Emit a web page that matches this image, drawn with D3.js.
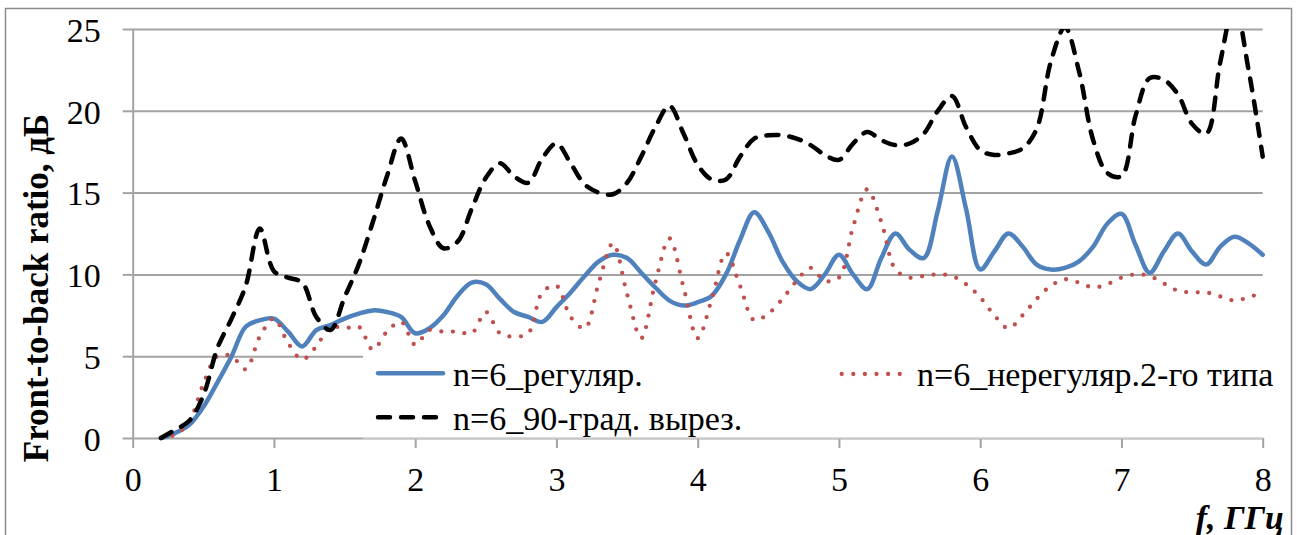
<!DOCTYPE html>
<html>
<head>
<meta charset="utf-8">
<script src="https://cdn.jsdelivr.net/npm/d3@7"></script>
<style>
  html, body { margin: 0; padding: 0; background: #fff; }
  svg { display: block; }
  text { font-family: "Liberation Serif", "Times New Roman", serif; fill: #000; }
</style>
</head>
<body>
<svg id="chart" width="1297" height="535"></svg>
<script>
// Frequency grid, GHz
const freq = [0.2,0.3,0.4,0.5,0.6,0.7,0.8,0.9,1.0,1.1,1.2,1.3,1.4,1.5,1.6,1.7,1.8,1.9,2.0,2.1,
  2.2,2.3,2.4,2.5,2.6,2.7,2.8,2.9,3.0,3.1,3.2,3.3,3.4,3.5,3.6,3.7,3.8,3.9,4.0,4.1,
  4.2,4.3,4.4,4.5,4.6,4.7,4.8,4.9,5.0,5.1,5.2,5.3,5.4,5.5,5.6,5.7,5.8,5.9,6.0,6.1,
  6.2,6.3,6.4,6.5,6.6,6.7,6.8,6.9,7.0,7.1,7.2,7.3,7.4,7.5,7.6,7.7,7.8,7.9,8.0];

// Front-to-back ratio, dB
const regular = [0,0.3,0.8,1.9,3.4,5.0,6.8,7.2,7.3,6.5,5.6,6.6,6.9,7.3,7.6,7.8,7.7,7.4,6.4,6.7,
  7.5,8.7,9.5,9.4,8.5,7.7,7.4,7.1,8.0,8.9,9.9,10.8,11.2,11.0,10.1,9.2,8.4,8.1,8.3,8.7,
  10.0,12.1,13.8,12.6,10.8,9.6,9.1,10.0,11.2,10.0,9.1,11.0,12.5,11.5,11.0,13.9,17.2,14.0,10.3,11.4,
  12.5,11.7,10.6,10.3,10.4,10.8,11.7,13.1,13.7,11.8,10.1,11.4,12.5,11.4,10.6,11.7,12.3,11.9,11.2];

const irregular2 = [0,0.2,1.0,3.3,5.0,5.0,4.2,6.2,7.3,5.8,4.8,5.6,6.8,6.7,6.8,5.4,6.5,7.1,5.7,6.6,
  6.5,6.5,6.4,7.7,6.4,6.2,6.4,8.9,9.3,7.4,6.7,9.5,11.9,8.8,6.1,9.5,12.2,9.2,6.1,8.5,
  11.3,9.3,7.2,7.6,8.5,9.6,10.4,9.6,9.8,12.9,15.2,13.2,10.3,9.8,9.9,10.0,9.9,9.4,8.6,7.5,
  6.7,7.5,8.5,9.3,9.7,9.5,9.2,9.4,9.8,10.0,9.9,9.45,9.0,8.9,8.9,8.65,8.4,8.6,8.9];

const cut90 = [0,0.5,1.05,2.6,5.5,7.3,9.3,12.8,10.2,9.8,9.5,7.4,6.6,8.6,10.6,13.2,16.0,18.3,15.7,13.0,
  11.6,12.0,14.0,15.9,16.8,16.0,15.6,17.1,18.0,16.8,15.5,15.0,14.9,15.6,17.2,19.0,20.3,18.6,16.7,15.8,
  15.8,17.2,18.3,18.5,18.5,18.3,17.9,17.3,17.0,18.0,18.7,18.2,17.9,18.0,18.6,20.0,20.9,19.0,17.6,17.3,
  17.4,17.7,18.9,23.0,25.1,22.4,18.2,16.2,16.0,19.7,22.0,21.9,21.0,19.2,18.6,23.0,26.5,22.5,17.2];

const xTicks = [0,1,2,3,4,5,6,7,8];
const yTicks = [0,5,10,15,20,25];

const seriesNames = ["n=6_регуляр.", "n=6_нерегуляр.2-го типа", "n=6_90-град. вырез."];
const yTitle = "Front-to-back ratio, дБ";
const xTitle = "f, ГГц";

const svg = d3.select("#chart");
const L = 132.7, R = 1262.7, T = 29, B = 438;

const x = d3.scaleLinear().domain([0, 8]).range([L, R]);
const y = d3.scaleLinear().domain([0, 25]).range([B, T]);

// outer frame
svg.append("rect")
  .attr("x", 5.5).attr("y", 8.5).attr("width", 1286).attr("height", 540)
  .attr("fill", "none").attr("stroke", "#8c8c8c").attr("stroke-width", 1.5);

const gridColor = "#a3a3a3";

// horizontal gridlines
svg.append("g")
  .attr("transform", `translate(${L},0)`)
  .call(d3.axisLeft(y).tickValues(yTicks).tickSizeInner(-(R - L)).tickSizeOuter(0).tickFormat(""))
  .call(g => g.select(".domain").remove())
  .call(g => g.selectAll(".tick line").attr("stroke", gridColor).attr("stroke-width", 2));

// y axis with outward ticks and labels
svg.append("g")
  .attr("transform", `translate(${L},0)`)
  .call(d3.axisLeft(y).tickValues(yTicks).tickSizeInner(10).tickSizeOuter(0).tickPadding(22))
  .call(g => g.select(".domain").attr("stroke", gridColor).attr("stroke-width", 2))
  .call(g => g.selectAll(".tick line").attr("stroke", gridColor).attr("stroke-width", 2))
  .call(g => g.selectAll(".tick text")
    .attr("font-family", "'Liberation Serif','Times New Roman',serif")
    .attr("font-size", 34).attr("dy", "0.36em").attr("fill", "#000"));

// x axis ticks and labels
svg.append("g")
  .attr("transform", `translate(0,${B})`)
  .call(d3.axisBottom(x).tickValues(xTicks).tickSizeInner(10).tickSizeOuter(0).tickPadding(19))
  .call(g => g.select(".domain").remove())
  .call(g => g.selectAll(".tick line").attr("stroke", gridColor).attr("stroke-width", 2))
  .call(g => g.selectAll(".tick text")
    .attr("font-family", "'Liberation Serif','Times New Roman',serif")
    .attr("font-size", 34).attr("fill", "#000"));

// clip to plot area
svg.append("defs").append("clipPath").attr("id", "plotClip")
  .append("rect").attr("x", L - 5).attr("y", T).attr("width", R - L + 10).attr("height", B - T + 5);

const line = d3.line()
  .x((d, i) => x(freq[i]))
  .y(d => y(d))
  .curve(d3.curveCatmullRom.alpha(0.5));

const plot = svg.append("g").attr("clip-path", "url(#plotClip)");

const styles = [
  { data: regular,    color: "#4f81bd", width: 4.5, dash: null,     cap: "round" },
  { data: irregular2, color: "#c0504d", width: 4.3, dash: "0 11.6", cap: "round" },
  { data: cut90,      color: "#000000", width: 4.5, dash: "12 11",  cap: "round" }
];

styles.forEach(s => {
  plot.append("path")
    .attr("d", line(s.data))
    .attr("fill", "none")
    .attr("stroke", s.color)
    .attr("stroke-width", s.width)
    .attr("stroke-linecap", s.cap)
    .attr("stroke-linejoin", "round")
    .attr("stroke-dasharray", s.dash);
});

// legend panel
svg.append("rect")
  .attr("x", 363).attr("y", 353).attr("width", R - 363 + 2).attr("height", B - 353 - 0.5)
  .attr("fill", "#fff");
svg.append("line")
  .attr("x1", 363).attr("x2", R).attr("y1", B).attr("y2", B)
  .attr("stroke", "#d4d4d4").attr("stroke-width", 1.5);

const legendItems = [
  { name: seriesNames[0], s: styles[0], x1: 378, x2: 443, ly: 373.3, tx: 453, ty: 386 },
  { name: seriesNames[1], s: styles[1], x1: 841.7, x2: 902, ly: 374, tx: 917, ty: 386 },
  { name: seriesNames[2], s: styles[2], x1: 378, x2: 436, ly: 417.3, tx: 453, ty: 429.5 }
];

const lg = svg.append("g");
legendItems.forEach(it => {
  lg.append("line")
    .attr("x1", it.x1).attr("x2", it.x2).attr("y1", it.ly).attr("y2", it.ly)
    .attr("stroke", it.s.color).attr("stroke-width", it.s.width)
    .attr("stroke-linecap", it.s.cap).attr("stroke-dasharray", it.s.dash);
  lg.append("text")
    .attr("x", it.tx).attr("y", it.ty)
    .attr("font-size", 34)
    .text(it.name);
});

// axis titles
svg.append("text")
  .attr("transform", "translate(48,288) rotate(-90)")
  .attr("text-anchor", "middle")
  .attr("font-size", 35).attr("font-weight", "bold")
  .text(yTitle);

svg.append("text")
  .attr("x", 1284).attr("y", 529)
  .attr("text-anchor", "end")
  .attr("font-size", 34).attr("font-weight", "bold").attr("font-style", "italic")
  .text(xTitle);
</script>
</body>
</html>
